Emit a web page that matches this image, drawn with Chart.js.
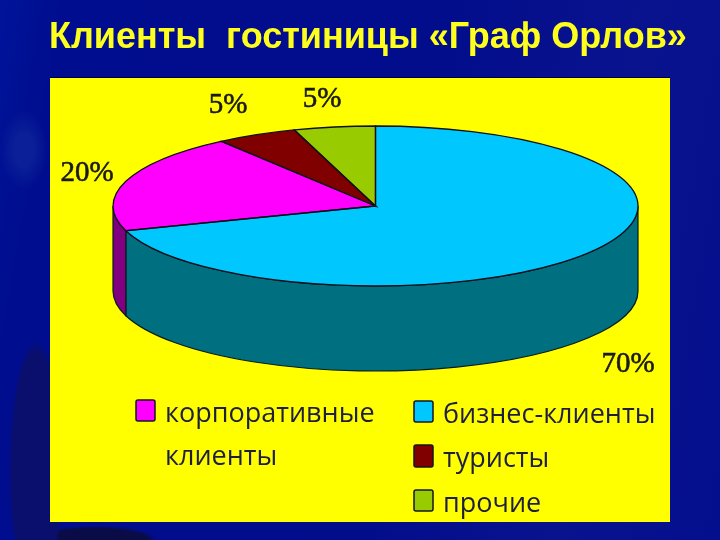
<!DOCTYPE html>
<html>
<head>
<meta charset="utf-8">
<title>Клиенты гостиницы</title>
<script src="https://cdn.jsdelivr.net/npm/chart.js@4/dist/chart.umd.min.js"></script>
<style>
html, body { margin: 0; padding: 0; width: 720px; height: 540px; overflow: hidden; }
body {
  background:
    radial-gradient(ellipse 27px 130px at 36px 470px, #0a0e6c 0 90%, transparent 100%),
    radial-gradient(ellipse 62px 14px at 95px 540px, #0a0c48 0 85%, transparent 100%),
    radial-gradient(ellipse 24px 40px at 24px 150px, #0a1f98 0 40%, transparent 100%),
    linear-gradient(100deg, #00149a 0, #000d8e 8%, #020d8c 55%, #0a138e 80%, #040f8e 100%);
}
canvas { position: absolute; left: 0; top: 0; }
</style>
</head>
<body>
<canvas id="pie" width="720" height="540"></canvas>
<script>
// Data
const titleText = 'Клиенты  гостиницы «Граф Орлов»';
const categories = ['бизнес-клиенты', 'корпоративные клиенты', 'туристы', 'прочие'];
const shares = [70, 20, 5, 5];
const topColors = ['#00c8ff', '#ff00ff', '#800000', '#99cc00'];
const wallColors = ['#006f80', '#800080', '#400000', '#4d6600'];

// Where the flattened disc sits on the slide
const disc = { x: 375.5, y: 206, rx: 262.5, ry: 80, depth: 85 };
const labelSpots = [[628, 362], [87, 171], [228, 103], [322, 97]];
const legendRows = [
  { i: 1, x: 136, y: 400, h: 21, lines: ['корпоративные', 'клиенты'] },
  { i: 0, x: 414, y: 401, h: 21, lines: ['бизнес-клиенты'] },
  { i: 2, x: 414, y: 445, h: 22, lines: ['туристы'] },
  { i: 3, x: 414, y: 490, h: 21, lines: ['прочие'] }
];

function discMatrix(ctx, arc) {
  // squash the round pie the library laid out onto the ellipse
  const s = disc.rx / arc.outerRadius;
  const sy = disc.ry / arc.outerRadius;
  ctx.translate(disc.x, disc.y);
  ctx.scale(s, sy);
  ctx.translate(-arc.x, -arc.y);
}

const flatPie = {
  id: 'flatPie',
  beforeDraw(chart) {
    const ctx = chart.ctx;
    ctx.save();
    ctx.fillStyle = '#ffff00';
    ctx.fillRect(50, 78, 620, 444);
    ctx.fillStyle = '#000050';
    ctx.fillRect(50, 77, 620, 1);
    ctx.restore();
  },
  beforeDatasetsDraw(chart) {
    const ctx = chart.ctx;
    const arcs = chart.getDatasetMeta(0).data;
    // side wall, only the part of each slice facing the viewer
    arcs.forEach((arc, i) => {
      const a0 = Math.max(arc.startAngle, 0);
      const a1 = Math.min(arc.endAngle, Math.PI);
      if (a1 <= a0) return;
      ctx.save();
      ctx.beginPath();
      ctx.ellipse(disc.x, disc.y, disc.rx, disc.ry, 0, a0, a1);
      ctx.ellipse(disc.x, disc.y + disc.depth, disc.rx, disc.ry, 0, a1, a0, true);
      ctx.closePath();
      ctx.fillStyle = wallColors[i];
      ctx.fill();
      ctx.strokeStyle = '#0a1a20';
      ctx.lineWidth = 1.2;
      ctx.stroke();
      ctx.restore();
    });
    ctx.save();
    discMatrix(ctx, arcs[0]);
  },
  afterDatasetsDraw(chart) {
    const ctx = chart.ctx;
    const arcs = chart.getDatasetMeta(0).data;
    ctx.restore();
    // outlines after the restore so the line width stays even
    arcs.forEach(arc => {
      ctx.save();
      ctx.beginPath();
      ctx.moveTo(disc.x, disc.y);
      ctx.ellipse(disc.x, disc.y, disc.rx, disc.ry, 0, arc.startAngle, arc.endAngle);
      ctx.closePath();
      ctx.strokeStyle = '#10101c';
      ctx.lineWidth = 1.3;
      ctx.stroke();
      ctx.restore();
    });
  },
  afterDraw(chart) {
    const ctx = chart.ctx;
    ctx.save();
    ctx.textBaseline = 'middle';
    ctx.textAlign = 'center';
    ctx.font = '29px "Liberation Serif"';
    ctx.fillStyle = '#1a1a1a';
    ctx.strokeStyle = '#1a1a1a';
    ctx.lineWidth = 0.6;
    shares.forEach((v, i) => {
      ctx.fillText(v + '%', labelSpots[i][0], labelSpots[i][1] + 2);
      ctx.strokeText(v + '%', labelSpots[i][0], labelSpots[i][1] + 2);
    });
    ctx.textAlign = 'left';
    ctx.font = '27px "Open Sans"';
    legendRows.forEach(row => {
      ctx.fillStyle = topColors[row.i];
      ctx.strokeStyle = '#15152a';
      ctx.lineWidth = 1.5;
      ctx.beginPath();
      ctx.roundRect(row.x, row.y, 19, row.h, 2);
      ctx.fill();
      ctx.stroke();
      ctx.fillStyle = '#1e1e40';
      row.lines.forEach((t, n) => {
        ctx.fillText(t, row.x + 29, row.y + 14 + n * 43);
      });
    });
    ctx.restore();
  }
};

const myPie = new Chart(document.getElementById('pie').getContext('2d'), {
  type: 'pie',
  data: {
    labels: categories,
    datasets: [{
      data: shares,
      backgroundColor: topColors,
      borderWidth: 0,
      clip: false
    }]
  },
  options: {
    responsive: false,
    animation: false,
    layout: { padding: { left: 49, top: 16, right: 20, bottom: 20 } },
    plugins: {
      legend: { display: false },
      tooltip: { enabled: false },
      title: {
        display: true,
        text: titleText,
        align: 'start',
        color: '#ffff1e',
        font: { family: '"Liberation Sans"', size: 36, weight: 'bold' },
        padding: 0
      }
    }
  },
  plugins: [flatPie]
});
</script>
</body>
</html>
